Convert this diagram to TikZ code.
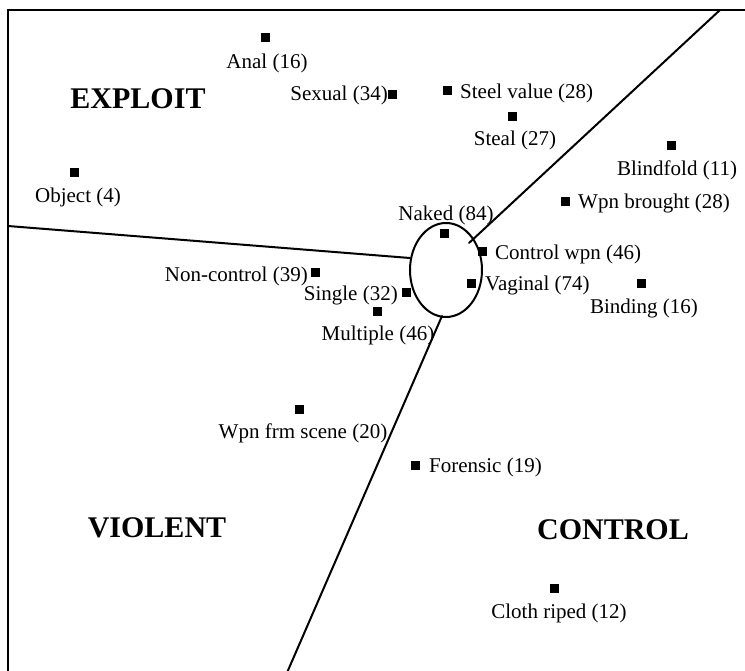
\documentclass[tikz,border=0pt]{standalone}
\usepackage{fontspec}
\setmainfont{Liberation Serif}
\usetikzlibrary{shapes.geometric}
\tikzset{
  pt/.style={fill=black, minimum size=9pt, inner sep=0pt, outer sep=0pt},
  lab/.style={font=\fontsize{21}{24}\selectfont, inner sep=0pt},
  region/.style={font=\fontsize{30}{34}\selectfont\bfseries, inner sep=0pt},
  divider/.style={line width=2pt, line cap=round},
  frameline/.style={line width=2.2pt}
}
\begin{document}
\begin{tikzpicture}[x=1pt,y=-1pt]
\useasboundingbox (0,0) rectangle (745,670);
\begin{scope}
\clip (0,0) rectangle (745,670);
% frame (top and left)
\coordinate (ftr) at (750,10);
\coordinate (ftl) at (8,10);
\coordinate (fbl) at (8,675);
\draw[frameline] (ftr) -- (ftl) -- (fbl);
% central ellipse
\node[ellipse, draw, line width=2pt, minimum width=72pt, minimum height=94pt, inner sep=0pt] (ell) at (446,270) {};
% dividers
\coordinate (dTR) at (720,10);
\coordinate (dTRin) at (469,243);
\coordinate (dL) at (8,226);
\coordinate (dLin) at (410,258);
\coordinate (dBin) at (442,316);
\coordinate (dB) at (286,675);
\draw[divider] (dTR) -- (dTRin);
\draw[divider] (dL) -- (dLin);
\draw[divider] (dBin) -- (dB);
\end{scope}
% region labels
\node[region] (exploit) at (138,99) {EXPLOIT};
\node[region] (violent) at (157,528) {VIOLENT};
\node[region] (control) at (613,530) {CONTROL};
% points and labels
\node[pt] (anal) at (265,37) {};
\node[lab] (analL) at (267,63) {Anal (16)};
\node[pt] (sexual) at (392,94) {};
\node[lab, anchor=east] (sexualL) at (388,95) {Sexual (34)};
\node[pt] (steelv) at (447,90) {};
\node[lab, anchor=west] (steelvL) at (460,93) {Steel value (28)};
\node[pt] (steal) at (512,116) {};
\node[lab] (stealL) at (515,140) {Steal (27)};
\node[pt] (blind) at (671,145) {};
\node[lab] (blindL) at (677,170) {Blindfold (11)};
\node[pt] (object) at (74,172) {};
\node[lab] (objectL) at (78,197) {Object (4)};
\node[pt] (wpnb) at (565,201) {};
\node[lab, anchor=west] (wpnbL) at (578,203) {Wpn brought (28)};
\node[pt] (naked) at (444,233) {};
\node[lab] (nakedL) at (446,215) {Naked (84)};
\node[pt] (ctrlw) at (482,251) {};
\node[lab, anchor=west] (ctrlwL) at (495,254) {Control wpn (46)};
\node[pt] (vag) at (471,283) {};
\node[lab, anchor=west] (vagL) at (485,285) {Vaginal (74)};
\node[pt] (bind) at (641,283) {};
\node[lab] (bindL) at (644,308) {Binding (16)};
\node[pt] (nonc) at (315,272) {};
\node[lab, anchor=east] (noncL) at (308,276) {Non-control (39)};
\node[pt] (single) at (406,292) {};
\node[lab, anchor=east] (singleL) at (398,295) {Single (32)};
\node[pt] (mult) at (377,311) {};
\node[lab] (multL) at (378,335) {Multiple (46)};
\node[pt] (wfs) at (299,409) {};
\node[lab] (wfsL) at (303,433) {Wpn frm scene (20)};
\node[pt] (foren) at (415,465) {};
\node[lab, anchor=west] (forenL) at (429,467) {Forensic (19)};
\node[pt] (cloth) at (554,588) {};
\node[lab] (clothL) at (559,613) {Cloth riped (12)};
\end{tikzpicture}
\end{document}
